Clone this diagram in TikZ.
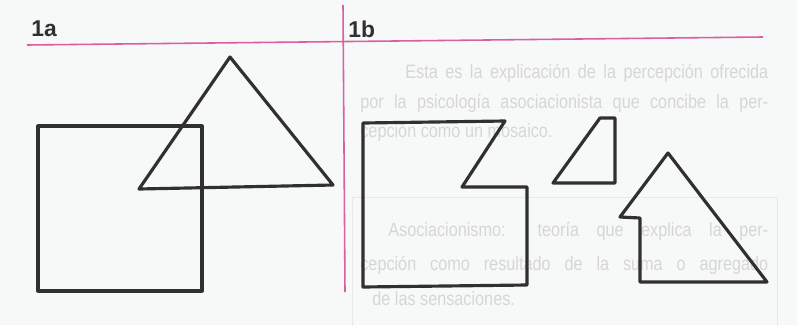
\documentclass[tikz,border=0pt]{standalone}
\usepackage{fontspec}
\setmainfont{Liberation Sans}
\newfontfamily\ghostfont[FakeStretch=0.84]{Liberation Sans}
\usepackage{xcolor}
\usepackage{tikz}
\usetikzlibrary{positioning, calc}
\definecolor{pagebg}{RGB}{246,249,247}
\definecolor{rulemag}{RGB}{222,92,162}
\definecolor{ink}{RGB}{48,48,48}
\tikzset{
  shp/.style ={draw=ink, line width=1.8pt, line join=round},
  rul/.style ={draw=rulemag, line width=0.9pt},
  tag/.style ={anchor=west, inner sep=0pt, font=\fontsize{13}{13}\selectfont\bfseries, text=ink},
  gst/.style ={anchor=base west, inner sep=0pt, font=\ghostfont\fontsize{11}{11}\selectfont, text=black!16},
}

\begin{document}
\begin{tikzpicture}[x=0.02cm, y=-0.02cm]
  \fill[pagebg] (0,0) rectangle (797,325);
  \useasboundingbox (0,0) rectangle (797,325);
  % faint page text behind the figure
  \draw[black!9, line width=0.4pt] (352,197) rectangle (777,330);
  \node[gst] (g1) at (405,78)  {\makebox[7.26cm][s]{Esta es la explicación de la percepción ofrecida}};
  \node[gst] (g2) at (360,108) {\makebox[8.16cm][s]{por la psicología asociacionista que concibe la per-}};
  \node[gst] (g3) at (360,137) {cepción como un mosaico.};
  \node[gst] (g4) at (388,236) {\makebox[7.6cm][s]{Asociacionismo: teoría que explica la per-}};
  \node[gst] (g5) at (360,270) {\makebox[8.16cm][s]{cepción como resultado de la suma o agregado}};
  \node[gst] (g6) at (372,305) {de las sensaciones.};
  % rules and panel labels
  \draw[rul] (27,45) -- (763,37);
  \draw[rul] (343,5) -- (345,292);
  \node[tag] (la) at (31,29) {1a};
  \node[tag] (lb) at (348,29) {1b};
  % 1a: square and triangle overlapping
  \draw[shp] (38,126) -- (202,126) -- (202,291) -- (38,291) -- cycle;
  \draw[shp] (139,189) -- (230,57) -- (333,185) -- cycle;
  % 1b: the same figure cut into pieces
  \draw[shp] (363,123) -- (505,121) -- (462,187) -- (527,187) -- (527,285) -- (363,287) -- cycle;
  \draw[shp] (600,118) -- (615,118) -- (615,183) -- (553,183) -- cycle;
  \draw[shp] (668,153) -- (767,282) -- (640,282) -- (640,218) -- (620,217) -- cycle;
\end{tikzpicture}
\end{document}
